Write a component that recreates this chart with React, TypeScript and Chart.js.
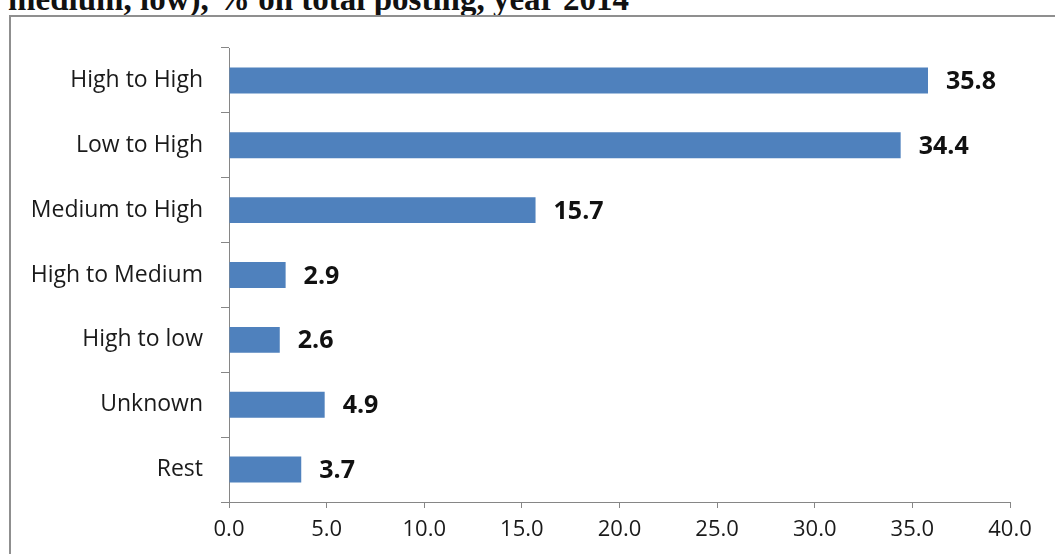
import React, { useEffect, useRef } from "react";
import { Chart, registerables } from "chart.js";

Chart.register(...registerables);

const categories = ["High to High", "Low to High", "Medium to High", "High to Medium", "High to low", "Unknown", "Rest"];
const shares = [35.8, 34.4, 15.7, 2.9, 2.6, 4.9, 3.7];
const titleText = "medium, low), % on total posting, year 2014";

const valueLabels = {
  id: "valueLabels",
  afterDatasetsDraw(chart: any) {
    const ctx = chart.ctx;
    const meta = chart.getDatasetMeta(0);
    ctx.save();
    ctx.font = "bold 25px 'Open Sans'";
    ctx.fillStyle = "#111";
    ctx.textAlign = "left";
    ctx.textBaseline = "middle";
    meta.data.forEach((bar: any, i: number) => {
      const v = chart.data.datasets[0].data[i] as number;
      ctx.fillText(v.toFixed(1), bar.x + 18, bar.y + 1.5);
    });
    ctx.restore();
  },
};

export default function App() {
  const ref = useRef<HTMLCanvasElement>(null);
  useEffect(() => {
    if (!ref.current) return;
    const chart = new Chart(ref.current, {
      type: "bar",
      data: {
        labels: categories,
        datasets: [
          {
            data: shares,
            backgroundColor: "#4F81BD",
            borderWidth: 0,
            barPercentage: 0.4,
            categoryPercentage: 1,
          },
        ],
      },
      options: {
        indexAxis: "y",
        animation: false,
        responsive: false,
        maintainAspectRatio: false,
        layout: { padding: { left: 0, right: 45, top: 48, bottom: 0 } },
        plugins: { legend: { display: false }, tooltip: { enabled: false }, title: { display: false } },
        scales: {
          x: {
            min: 0,
            max: 40,
            ticks: {
              stepSize: 5,
              callback: (v: any) => Number(v).toFixed(1),
              font: { family: "'Open Sans'", size: 22 },
              color: "#1a1a1a",
              padding: 9,
            },
            grid: { drawOnChartArea: false, tickLength: 6, color: "#868686", lineWidth: 1 },
            border: { color: "#868686", width: 1 },
            afterFit: (s: any) => { s.height = 52; },
          },
          y: {
            ticks: {
              font: { family: "'Open Sans'", size: 23 },
              color: "#1a1a1a",
              padding: 18,
            },
            grid: { drawOnChartArea: false, offset: true, tickLength: 8, color: "#868686", lineWidth: 1 },
            border: { color: "#868686", width: 1 },
            afterFit: (s: any) => { s.width = 229; },
          },
        },
      },
      plugins: [valueLabels],
    });
    return () => chart.destroy();
  }, []);

  return (
    <div style={{ position: "fixed", left: 0, top: 0, width: 1055, height: 554, overflow: "hidden", background: "#fff" }}>
      <div
        style={{
          position: "absolute",
          left: 8,
          top: -17,
          fontFamily: "'Liberation Serif', 'Times New Roman', serif",
          fontWeight: "bold",
          fontSize: 33,
          lineHeight: "33px",
          whiteSpace: "nowrap",
          color: "#111",
        }}
      >
        {titleText}
      </div>
      <div
        style={{
          position: "absolute",
          left: 9,
          top: 15,
          width: 1200,
          height: 700,
          border: "2px solid #8f8f8f",
          boxSizing: "border-box",
        }}
      />
      <canvas ref={ref} width={1055} height={554} style={{ position: "absolute", left: 0, top: 0, width: 1055, height: 554 }} />
    </div>
  );
}
